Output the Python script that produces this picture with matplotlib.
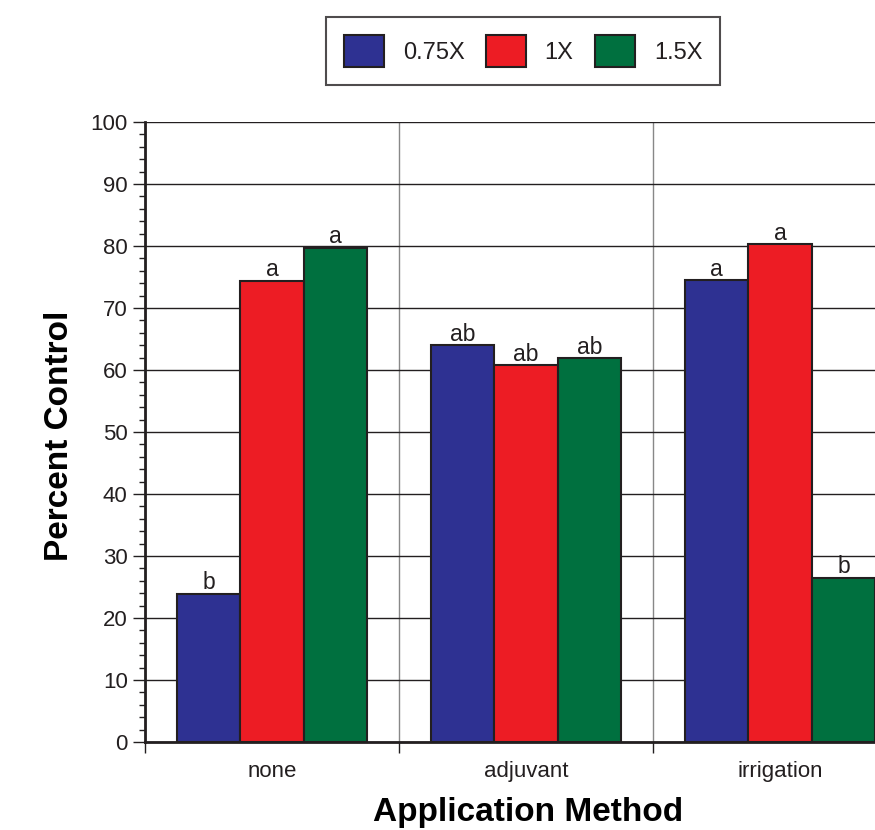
import matplotlib.pyplot as plt
import numpy as np
from matplotlib.ticker import MultipleLocator

plt.rcParams['font.family'] = ['Liberation Sans', 'DejaVu Sans']

methods = ['none', 'adjuvant', 'irrigation']
rates = ['0.75X', '1X', '1.5X']
colors = ['#2e3192', '#ed1c24', '#00703f']

# percent control, one list per rate
vals_075 = [23.9, 64.0, 74.5]
vals_1 = [74.4, 60.8, 80.3]
vals_15 = [79.7, 61.9, 26.5]
letters_075 = ['b', 'ab', 'a']
letters_1 = ['a', 'ab', 'a']
letters_15 = ['a', 'ab', 'b']

series = [vals_075, vals_1, vals_15]
letters = [letters_075, letters_1, letters_15]

fig = plt.figure(figsize=(8.75, 8.3), dpi=100)
# axes runs off the right edge, like the cropped original
ax = fig.add_axes([145 / 875, 88 / 830, 762 / 875, 620 / 830])

x = np.arange(len(methods))
w = 0.25
for i, (vals, labs) in enumerate(zip(series, letters)):
    pos = x + (i - 1) * w
    ax.bar(pos, vals, width=w, color=colors[i], edgecolor='#231f20',
           linewidth=1.5, label=rates[i], zorder=3)
    for p, v, t in zip(pos, vals, labs):
        ax.text(p, v - 0.1, t, ha='center', va='bottom', fontsize=16.5,
                color='#231f20', zorder=4)

ax.set_xlim(-0.5, 2.5)
ax.set_ylim(0, 100)

ax.set_yticks(np.arange(0, 101, 10))
ax.yaxis.set_minor_locator(MultipleLocator(2))
ax.tick_params(axis='y', which='major', length=9, width=1, labelsize=16,
               color='#231f20', labelcolor='#231f20')
ax.tick_params(axis='y', which='minor', length=4.5, width=1, color='#231f20')

ax.set_xticks([-0.5, 0.5, 1.5, 2.5])
ax.set_xticklabels([])
ax.set_xticks(x, minor=True)
ax.set_xticklabels(methods, minor=True)
ax.tick_params(axis='x', which='major', length=8, width=1, color='#231f20')
ax.tick_params(axis='x', which='minor', length=0, pad=14, labelsize=16,
               labelcolor='#231f20')

ax.yaxis.grid(True, color='#231f20', linewidth=1, zorder=0)
ax.xaxis.grid(True, which='major', color='#888888', linewidth=1, zorder=0)
ax.set_axisbelow(True)

for s in ['top', 'right']:
    ax.spines[s].set_visible(False)
ax.spines['left'].set_linewidth(2)
ax.spines['bottom'].set_linewidth(2)
ax.spines['left'].set_color('#231f20')
ax.spines['bottom'].set_color('#231f20')

fig.text(60 / 875, 1 - 436 / 830, 'Percent Control', rotation=90,
         ha='center', va='center', fontsize=24, fontweight='bold')
fig.text(528 / 875, 1 - 812 / 830, 'Application Method',
         ha='center', va='center', fontsize=24, fontweight='bold')

leg = fig.legend(loc='center', bbox_to_anchor=(523 / 875, 1 - 51 / 830),
                 ncol=3, fontsize=17, frameon=True, fancybox=False,
                 edgecolor='#231f20', handlelength=1.7, handleheight=1.7,
                 handletextpad=0.8, columnspacing=0.9, borderpad=0.75)
leg.get_frame().set_linewidth(1.5)
for t in leg.get_texts():
    t.set_color('#231f20')

fig.savefig('out.png', dpi=100)
